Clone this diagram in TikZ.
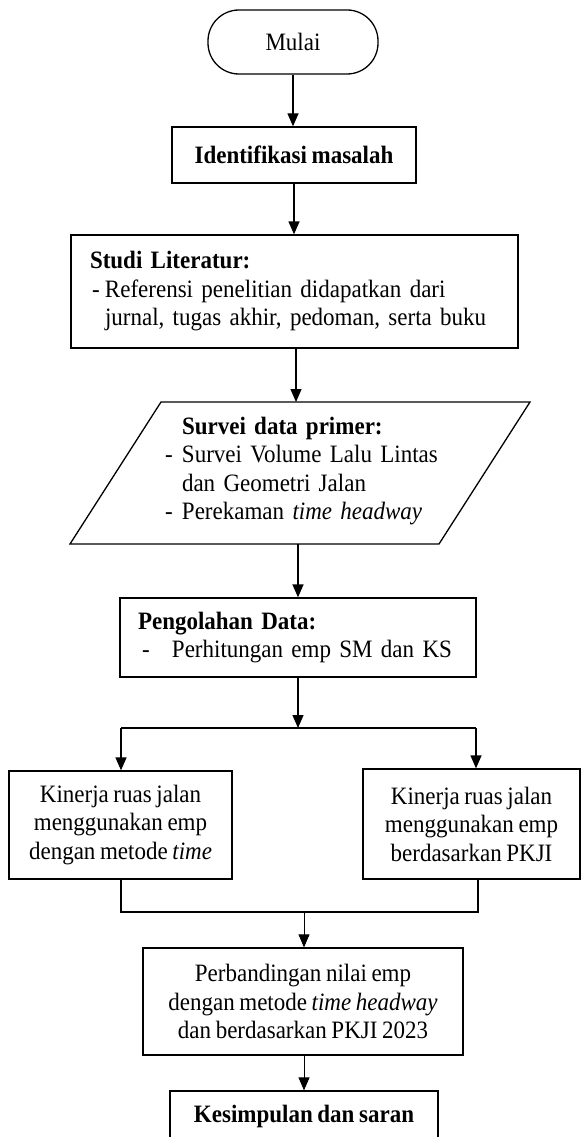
\documentclass[tikz,border=0pt]{standalone}
\usepackage{fontspec}
\setmainfont[FakeStretch=0.92,WordSpace=0.8]{Liberation Serif}
\usetikzlibrary{arrows.meta,calc}
\newcommand{\fsz}{\fontsize{25}{28.5}\selectfont}
\newcommand{\lline}[1]{\mbox{#1}}
\begin{document}
\begin{tikzpicture}[x=1pt,y=-1pt,
  box/.style={draw,line width=1.3pt,rectangle,inner sep=0pt,font=\fsz,align=center},
  lbox/.style={box,align=left,inner xsep=18pt},
  arr/.style={line width=1.3pt,-{Triangle[width=11pt,length=13pt]}},
  thinarr/.style={line width=0.8pt,-{Triangle[width=11pt,length=13pt]}},
  ln/.style={line width=1.3pt}]
\useasboundingbox (0,0) rectangle (581,1137);

\node[box,rounded corners=31pt,minimum width=170pt,minimum height=64pt] (mulai) at (293,42) {Mulai};
\node[box,minimum width=244pt,minimum height=56pt] (ident) at (294,155) {\textbf{Identifikasi masalah}};
\node[lbox,inner xsep=19pt,text width=409pt,minimum height=113pt] (studi) at (294.5,291.5)
  {\lline{\textbf{Studi Literatur:}}\\
   \lline{\hspace*{2pt}\makebox[13pt][l]{-}Referensi penelitian didapatkan dari}\\
   \lline{\hspace*{15pt}jurnal, tugas akhir, pedoman, serta buku}};

\draw[ln] (161,402) -- (530,402) -- (439,544) -- (70,544) -- cycle;
\coordinate (svtop) at (296,402);
\coordinate (svbot) at (298,544);
\node[font=\fsz,align=left,text width=280pt,inner sep=0pt] (survei) at (305,471)
  {\lline{\hspace*{17pt}\textbf{Survei data primer:}}\\
   \lline{\makebox[17pt][l]{-}Survei Volume Lalu Lintas}\\
   \lline{\hspace*{17pt}dan Geometri Jalan}\\
   \lline{\makebox[17pt][l]{-}Perekaman \textit{time headway}}};

\node[lbox,text width=320pt,minimum height=79pt] (peng) at (298,637.5)
  {\lline{\textbf{Pengolahan Data:}}\\
   \lline{\hspace*{4pt}\makebox[30pt][l]{-}Perhitungan emp SM dan KS}};

\node[box,minimum width=223pt,minimum height=108pt] (kl) at (120.5,825)
  {Kinerja ruas jalan\\menggunakan emp\\dengan metode \textit{time}};
\node[box,minimum width=217pt,minimum height=110pt] (kr) at (471.5,824)
  {Kinerja ruas jalan\\menggunakan emp\\berdasarkan PKJI};

\node[box,minimum width=320pt,minimum height=107pt] (comp) at (303,1001.5)
  {Perbandingan nilai emp\\dengan metode \textit{time headway}\\dan berdasarkan PKJI 2023};
\node[box,minimum width=268pt,minimum height=50pt] (kes) at (304,1116)
  {\textbf{Kesimpulan dan saran}};

\coordinate (j) at (298,728);
\coordinate (jl) at (121,728);
\coordinate (jr) at (476,728);
\coordinate (bl) at (121,912);
\coordinate (br) at (478,912);
\coordinate (bm) at (304,912);

\draw[arr] (mulai.south) -- (mulai.south |- ident.north);
\draw[arr] (ident.south) -- (ident.south |- studi.north);
\draw[arr] (studi.south -| svtop) -- (svtop);
\draw[arr] (svbot) -- (svbot |- peng.north);
\draw[arr] (peng.south) -- (j);
\draw[ln] (jl) -- (jr);
\draw[arr] (jl) -- (jl |- kl.north);
\draw[arr] (jr) -- (jr |- kr.north);
\draw[ln] (bl |- kl.south) -- (bl) -- (br) -- (br |- kr.south);
\draw[thinarr] (bm) -- (bm |- comp.north);
\draw[thinarr] (comp.south -| bm) -- (bm |- kes.north);
\end{tikzpicture}
\end{document}
